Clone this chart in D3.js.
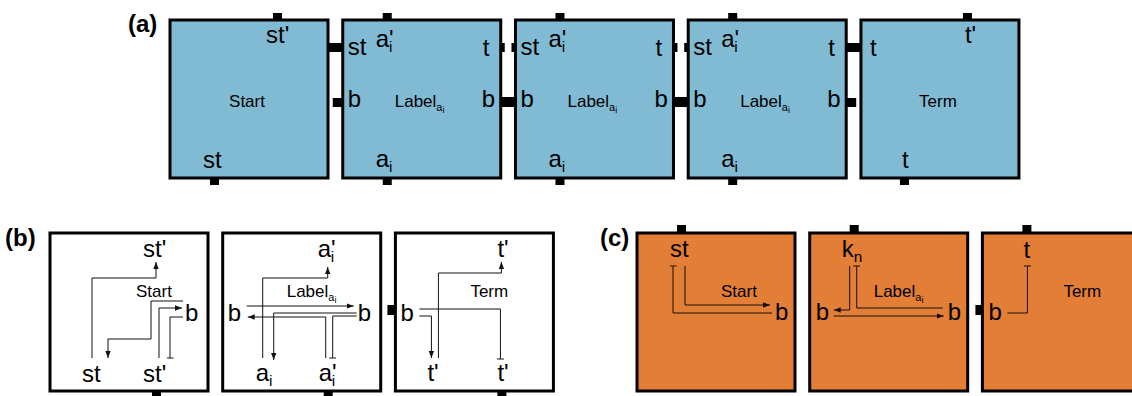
<!DOCTYPE html>
<html><head><meta charset="utf-8">
<script src="https://cdn.jsdelivr.net/npm/d3@7"></script>
<style>body{margin:0;background:#fff}svg{display:block}</style>
</head><body>
<svg id="c" width="1132" height="396"></svg>
<script>
// ---------------- data ----------------
const panelLabels = ["(a)", "(b)", "(c)"];
const panelABoxes = ["Start", "Label", "Label", "Label", "Term"];
const panelATopJoins = ["full", "split", "split", "full"];   // t-level joins between neighbours
const panelAMidJoins = ["right", "full", "full", "left"];    // b-level joins between neighbours
const panelBBoxes = ["Start", "Label", "Term"];
const panelCBoxes = ["Start", "Label", "Term"];
// text tokens: [text, level] (level 1 = subscript, 2 = sub-subscript)
const T = {
  st: [["st",0]], stp: [["st'",0]], t: [["t",0]], tp: [["t'",0]], b: [["b",0]],
  ai: [["a",0],["i",1]], aip: [["a",0],["'",0],["i",1,"back"]], kn: [["k",0],["n",1]],
  Start: [["Start",0]], Term: [["Term",0]], Label: [["Label",0],["a",1],["i",2]]
};
const colors = { a: "#80bad3", b: "#ffffff", c: "#e27e36" };

// ---------------- layout ----------------
const svg = d3.select("#c");
const FONT = "'Liberation Sans', Arial, Helvetica, sans-serif";
const BIG = 24, SMALL = 17;
const defs = svg.append("defs");
defs.append("marker").attr("id","arr").attr("viewBox","0 0 10 10").attr("refX",10).attr("refY",5)
  .attr("markerWidth",7).attr("markerHeight",7).attr("markerUnits","userSpaceOnUse").attr("orient","auto")
  .append("path").attr("d","M0,1.2L10,5L0,8.8Z").attr("fill","#111");
defs.append("marker").attr("id","tee").attr("viewBox","0 0 10 10").attr("refX",5).attr("refY",5)
  .attr("markerWidth",7).attr("markerHeight",7).attr("markerUnits","userSpaceOnUse").attr("orient","auto")
  .append("path").attr("d","M5,0V10").attr("stroke","#111").attr("stroke-width",1.4);

const BOX = 158;
const xA = d3.scaleBand().domain(d3.range(panelABoxes.length)).range([170, 1019]).paddingInner(0.085);
const xB = d3.scaleBand().domain(d3.range(panelBBoxes.length)).range([50, 553]).paddingInner(0.0875);
const xC = d3.scaleBand().domain(d3.range(panelCBoxes.length)).range([637, 1140]).paddingInner(0.0875);
const yA = 20, yBC = 233;

function txt(g, tokens, x, y, size, anchor) {
  const t = g.append("text").attr("x", x).attr("y", y).attr("font-family", FONT)
    .attr("font-size", size).attr("fill", "#000").attr("text-anchor", anchor || "start");
  let shift = 0;
  tokens.forEach(([s, lvl, back]) => {
    const fs = lvl === 0 ? size : lvl === 1 ? size * 0.64 : size * 0.52;
    const target = lvl === 0 ? 0 : lvl === 1 ? size * 0.22 : size * 0.38;
    const sp = t.append("tspan").attr("font-size", fs).attr("dy", target - shift).text(s);
    if (back) sp.attr("dx", -size * 0.2);
    shift = target;
  });
  return t;
}
function rect(g, x, y, w, h) { g.append("rect").attr("x", x).attr("y", y).attr("width", w).attr("height", h).attr("fill", "#000"); }
function box(g, x, y, fill) {
  g.append("rect").attr("x", x).attr("y", y).attr("width", BOX).attr("height", BOX)
    .attr("fill", fill).attr("stroke", "#000").attr("stroke-width", 3);
}
const line = d3.line();
function wire(g, x0, y0, pts, start, end) {
  const p = g.append("path").attr("d", line(pts.map(q => [x0 + q[0], y0 + q[1]])))
    .attr("fill", "none").attr("stroke", "#111").attr("stroke-width", 1);
  if (start) p.attr("marker-start", `url(#${start})`);
  if (end) p.attr("marker-end", `url(#${end})`);
}

// panel labels
const pl = [[128, 32], [5, 246], [600, 246]];
panelLabels.forEach((s, i) => svg.append("text").attr("x", pl[i][0]).attr("y", pl[i][1])
  .attr("font-family", FONT).attr("font-weight", "bold").attr("font-size", 24).text(s));

// ---------- panel (a) ----------
const ga = svg.append("g");
panelATopJoins.forEach((j, i) => {
  const r = xA(i) + BOX, l = xA(i + 1);
  if (j === "full") rect(ga, r, yA + 23, l - r, 9);
  else { rect(ga, r, yA + 23, 4, 9); rect(ga, l - 4, yA + 23, 4, 9); }
});
panelAMidJoins.forEach((j, i) => {
  const r = xA(i) + BOX, l = xA(i + 1);
  if (j === "full") rect(ga, r, yA + 77, l - r, 10);
  else if (j === "right") rect(ga, l - 10, yA + 78, 10, 9);
  else rect(ga, r, yA + 78, 10, 9);
});
panelABoxes.forEach((kind, i) => {
  const x = xA(i), y = yA;
  if (kind === "Start") {
    rect(ga, x + 103, y - 7, 9, 8); rect(ga, x + 40, y + BOX - 1, 9, 8);
    box(ga, x, y, colors.a);
    txt(ga, T.stp, x + 96, y + 23, BIG);
    txt(ga, T.Start, x + 77, y + 87, SMALL, "middle");
    txt(ga, T.st, x + 33, y + 148, BIG);
  } else if (kind === "Label") {
    rect(ga, x + 40, y - 7, 9, 8); rect(ga, x + 40, y + BOX - 1, 9, 8);
    box(ga, x, y, colors.a);
    txt(ga, T.st, x + 5, y + 35, BIG);
    txt(ga, T.aip, x + 33, y + 27, BIG);
    txt(ga, T.t, x + 140, y + 36, BIG);
    txt(ga, T.b, x + 5, y + 87, BIG);
    txt(ga, T.b, x + 139, y + 87, BIG);
    txt(ga, T.Label, x + 52, y + 87, SMALL);
    txt(ga, T.ai, x + 33, y + 147, BIG);
  } else {
    rect(ga, x + 102, y - 7, 9, 8); rect(ga, x + 39, y + BOX - 1, 9, 8);
    box(ga, x, y, colors.a);
    txt(ga, T.t, x + 9, y + 36, BIG);
    txt(ga, T.tp, x + 104, y + 23, BIG);
    txt(ga, T.Term, x + 77, y + 87, SMALL, "middle");
    txt(ga, T.t, x + 41, y + 148, BIG);
  }
});

// ---------- panel (b) ----------
const gb = svg.append("g");
panelBBoxes.forEach((kind, i) => {
  const x = xB(i), y = yBC;
  if (kind === "Start") {
    rect(gb, x + 102, y + BOX - 1, 9, 10);
    box(gb, x, y, colors.b);
    txt(gb, T.stp, x + 93, y + 24, BIG);
    txt(gb, T.Start, x + 86, y + 64, SMALL);
    txt(gb, T.b, x + 135, y + 88, BIG);
    txt(gb, T.st, x + 32, y + 149, BIG);
    txt(gb, T.stp, x + 93, y + 149, BIG);
    wire(gb, x, y, [[42,125],[42,45],[106,45],[106,29]], null, "arr");
    wire(gb, x, y, [[133,68],[101,68],[101,106],[58,106],[58,125]], null, "arr");
    wire(gb, x, y, [[109,125],[109,75],[132,75]], null, "arr");
    wire(gb, x, y, [[133,84],[120,84],[120,125]], null, "tee");
  } else if (kind === "Label") {
    rect(gb, x + 101, y + BOX - 1, 9, 10);
    box(gb, x, y, colors.b);
    txt(gb, T.aip, x + 95, y + 24, BIG);
    txt(gb, T.Label, x + 64, y + 64, SMALL);
    txt(gb, T.b, x + 5, y + 88, BIG);
    txt(gb, T.b, x + 135, y + 88, BIG);
    txt(gb, T.ai, x + 33, y + 148, BIG);
    txt(gb, T.aip, x + 96, y + 148, BIG);
    wire(gb, x, y, [[40,125],[40,45],[105,45],[105,34]], null, "arr");
    wire(gb, x, y, [[24,73],[131,73]], null, "arr");
    wire(gb, x, y, [[134,80],[51,80],[51,127]], null, "arr");
    wire(gb, x, y, [[103,125],[103,84],[25,84]], null, "arr");
    wire(gb, x, y, [[134,83],[110,83],[110,125]], null, "tee");
  } else {
    rect(gb, x - 8, y + 72, 9, 10); rect(gb, x + 102, y + BOX - 1, 9, 10);
    box(gb, x, y, colors.b);
    txt(gb, T.tp, x + 102, y + 24, BIG);
    txt(gb, T.Term, x + 75, y + 64, SMALL);
    txt(gb, T.b, x + 5, y + 88, BIG);
    txt(gb, T.tp, x + 32, y + 148, BIG);
    txt(gb, T.tp, x + 102, y + 148, BIG);
    wire(gb, x, y, [[43,125],[43,40],[106,40],[106,29]], null, "arr");
    wire(gb, x, y, [[24,76],[105,76],[105,126]], null, "tee");
    wire(gb, x, y, [[24,83],[36,83],[36,125]], null, "arr");
  }
});

// ---------- panel (c) ----------
const gc = svg.append("g");
panelCBoxes.forEach((kind, i) => {
  const x = xC(i), y = yBC;
  rect(gc, x + 40, y - 8, 9, 9);
  if (kind === "Term") rect(gc, x - 7, y + 72, 8, 10);
  box(gc, x, y, colors.c);
  if (kind === "Start") {
    txt(gc, T.st, x + 33, y + 24, BIG);
    txt(gc, T.Start, x + 84, y + 64, SMALL);
    txt(gc, T.b, x + 138, y + 87, BIG);
    wire(gc, x, y, [[36,33],[36,80],[135,80]], "tee", null);
    wire(gc, x, y, [[48,33],[48,72],[133,72]], null, "arr");
  } else if (kind === "Label") {
    txt(gc, T.kn, x + 32, y + 24, BIG);
    txt(gc, T.Label, x + 64, y + 64, SMALL);
    txt(gc, T.b, x + 6, y + 87, BIG);
    txt(gc, T.b, x + 138, y + 87, BIG);
    wire(gc, x, y, [[40,33],[40,77],[24,77]], null, "arr");
    wire(gc, x, y, [[47,33],[47,75],[133,75]], "tee", null);
    wire(gc, x, y, [[24,83],[134,83]], null, "arr");
  } else {
    txt(gc, T.t, x + 41, y + 25, BIG);
    txt(gc, T.Term, x + 81, y + 64, SMALL);
    txt(gc, T.b, x + 6, y + 87, BIG);
    wire(gc, x, y, [[45,33],[45,80],[25,80]], "tee", null);
  }
});
</script>
</body></html>
